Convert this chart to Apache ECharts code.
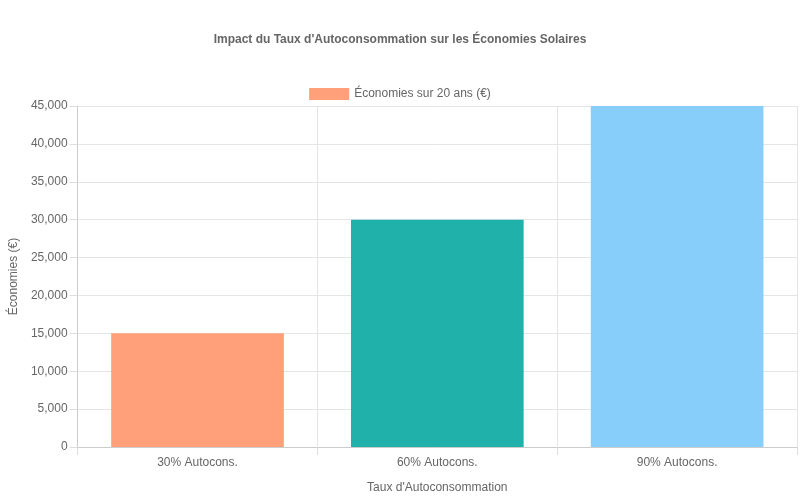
<!DOCTYPE html>
<html lang="fr">
<head>
<meta charset="UTF-8">
<title>Impact du Taux d'Autoconsommation</title>
<script src="https://cdn.jsdelivr.net/npm/echarts@6/dist/echarts.min.js"></script>
</head>
<body style="margin:0">
<div id="main" style="width:800px;height:500px;"></div>
<script type="text/javascript">
    var categories = ['30% Autocons.', '60% Autocons.', '90% Autocons.'];
    var savings = [15000, 30000, 45000];
    var colors = ['#FFA07A', '#20B2AA', '#87CEFA'];

    var data = [];
    for (var i = 0; i < savings.length; i++) {
        data.push({ value: savings[i], itemStyle: { color: colors[i] } });
    }

    var myChart = echarts.init(document.getElementById('main'));
    var font = 'Liberation Sans, Arial, sans-serif';
    var option = {
        textStyle: { fontFamily: font },
        title: {
            text: "Impact du Taux d'Autoconsommation sur les Économies Solaires",
            left: 'center', top: 29,
            textStyle: { fontSize: 12, fontWeight: 'bold', color: '#666', fontFamily: font }
        },
        legend: {
            top: 83, left: 'center',
            itemWidth: 40, itemHeight: 12, itemGap: 10,
            icon: 'rect',
            textStyle: { color: '#666', fontSize: 12 },
            data: ['Économies sur 20 ans (€)']
        },
        grid: { left: 73, right: 3, top: 106, bottom: 53, containLabel: false },
        xAxis: {
            type: 'category',
            data: categories,
            name: "Taux d'Autoconsommation",
            nameLocation: 'middle', nameGap: 35,
            nameTextStyle: { color: '#666', fontSize: 12 },
            axisLine: { lineStyle: { color: '#ccc' } },
            axisTick: { show: true, length: 8, lineStyle: { color: '#ddd' } },
            axisLabel: { color: '#666', fontSize: 12, margin: 10 },
            splitLine: { show: true, lineStyle: { color: '#e5e5e5' } }
        },
        yAxis: {
            type: 'value',
            min: 0, max: 45000, interval: 5000,
            name: 'Économies (€)',
            nameLocation: 'middle', nameGap: 56,
            nameTextStyle: { color: '#666', fontSize: 12 },
            axisLine: { show: true, lineStyle: { color: '#ccc' } },
            axisTick: { show: true, length: 8, lineStyle: { color: '#ddd' } },
            axisLabel: { color: '#666', fontSize: 12, margin: 10 },
            splitLine: { lineStyle: { color: '#e5e5e5' } }
        },
        series: [{
            name: 'Économies sur 20 ans (€)',
            type: 'bar',
            barWidth: '72%',
            itemStyle: { color: '#FFA07A' },
            data: data
        }]
    };
    myChart.setOption(option);
</script>
</body>
</html>
